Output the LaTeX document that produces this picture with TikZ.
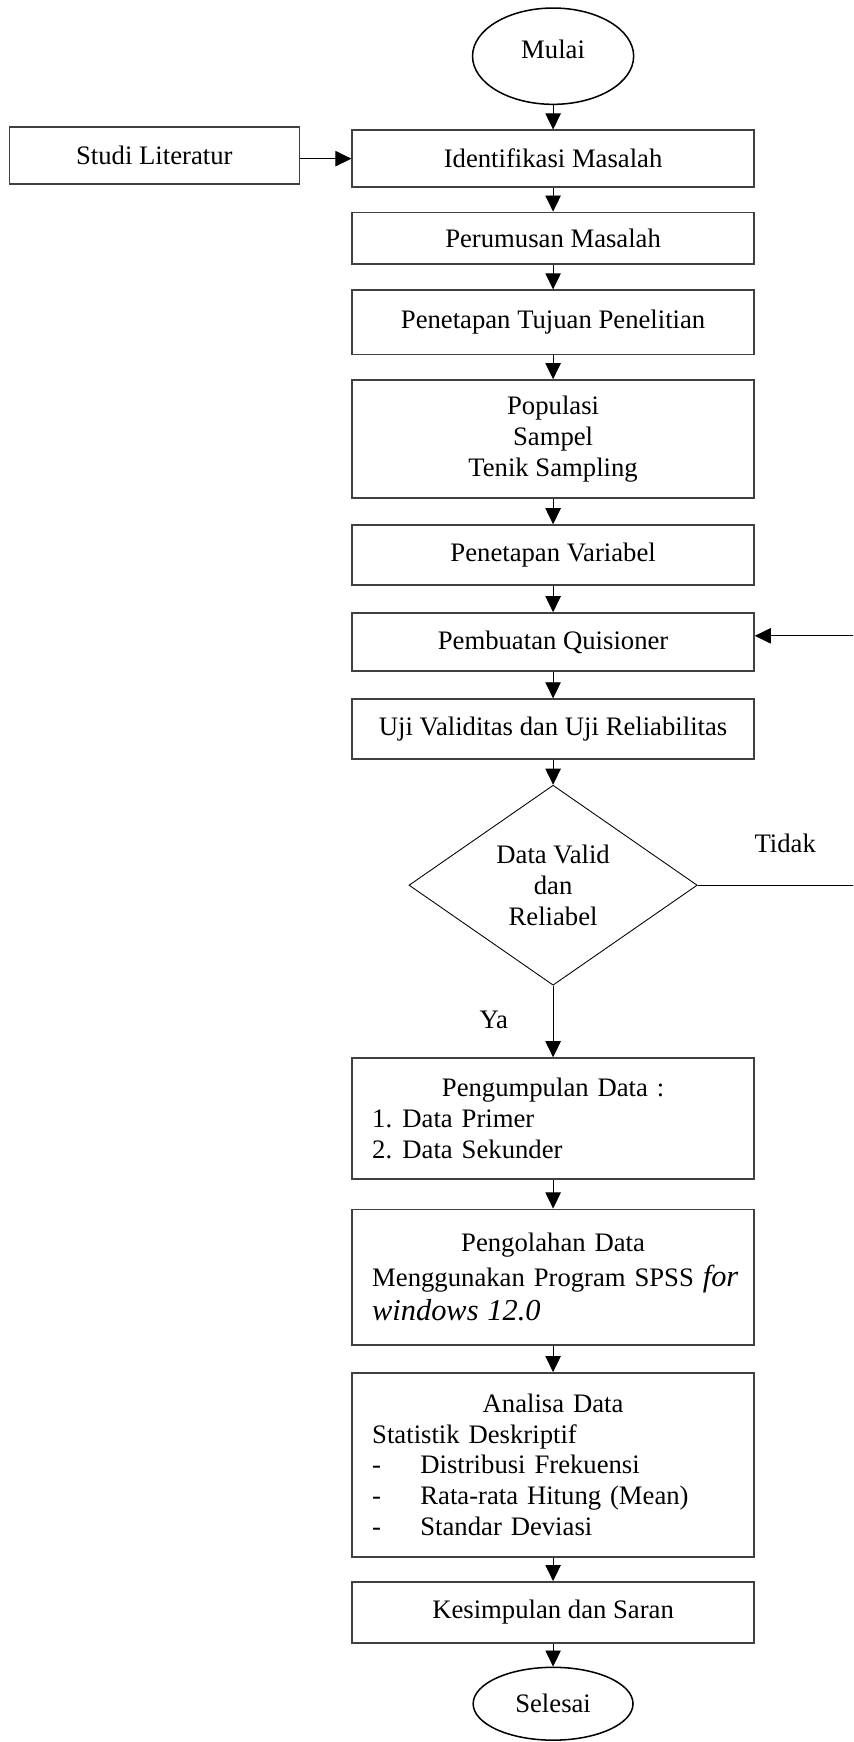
\documentclass[tikz,border=0pt]{standalone}
\usepackage{fontspec}
\setmainfont{Liberation Serif}
\usetikzlibrary{shapes.geometric,arrows.meta}

\tikzset{
	txt/.style={font=\fontsize{12.3}{14.2}\selectfont},
	box/.style={txt, draw=black!75, line width=0.7pt, minimum width=6.51cm, inner sep=0pt, align=center},
	listbox/.style={box, text width=5.86cm, align=left},
	terminal/.style={txt, ellipse, draw, line width=0.7pt, inner sep=0pt},
	decision/.style={txt, diamond, draw, line width=0.4pt, aspect=1.44, inner sep=0pt,
		minimum width=4.67cm, minimum height=3.24cm, align=center},
	flow/.style={line width=0.4pt, ->}
}

\begin{document}
\begin{tikzpicture}[scale=1.0, >={Triangle[width=0.25cm,length=0.26cm]}]
			\useasboundingbox (0,0) rectangle (13.82,-28.22);
			\clip (0,0) rectangle (13.82,-28.22);

			% start and side box
			\node [terminal, minimum width=2.61cm, minimum height=1.56cm] (mulai) at (8.96,-0.91) {\raisebox{0.22cm}{Mulai}};
			\node [box, minimum width=4.70cm, minimum height=0.92cm] (studi) at (2.50,-2.52) {Studi Literatur};

			% main column
			\node [box, minimum height=0.92cm] (ident) at (8.96,-2.57) {Identifikasi Masalah};
			\node [box, minimum height=0.84cm] (perum) at (8.96,-3.86) {Perumusan Masalah};
			\node [box, minimum height=1.04cm] (tujuan) at (8.96,-5.22) {Penetapan Tujuan Penelitian};
			\node [box, minimum height=1.91cm] (pop) at (8.96,-7.11) {Populasi\\Sampel\\Tenik Sampling};
			\node [box, minimum height=0.97cm] (var) at (8.96,-8.99) {Penetapan Variabel};
			\node [box, minimum height=0.94cm] (quis) at (8.96,-10.40) {Pembuatan Quisioner};
			\node [box, minimum height=0.97cm] (uji) at (8.96,-11.81) {Uji Validitas dan Uji Reliabilitas};

			% decision
			\node [decision] (valid) at (8.96,-14.34) {Data Valid\\dan\\Reliabel};
			\node [txt] (tidak) at (12.72,-13.66) {Tidak};
			\node [txt] (ya) at (8.00,-16.52) {Ya};

			% data boxes
			\node [listbox, minimum height=1.96cm] (kumpul) at (8.96,-18.12) {%
				\makebox[5.86cm]{Pengumpulan Data :}\\
				\makebox[0.49cm][l]{1.}Data Primer\\
				\makebox[0.49cm][l]{2.}Data Sekunder};
			\node [listbox, minimum height=2.20cm, font=\fontsize{12.3}{16}\selectfont] (olah) at (8.96,-20.69) {%
				\makebox[5.86cm]{Pengolahan Data}\\
				\mbox{Menggunakan Program SPSS {\fontsize{14}{16}\selectfont\itshape for}}\\
				{\fontsize{14}{16}\selectfont\itshape windows 12.0}};
			\node [listbox, minimum height=2.98cm] (analisa) at (8.96,-23.73) {%
				\makebox[5.86cm]{Analisa Data}\\
				Statistik Deskriptif\\
				\makebox[0.78cm][l]{-}Distribusi Frekuensi\\
				\makebox[0.78cm][l]{-}Rata-rata Hitung (Mean)\\
				\makebox[0.78cm][l]{-}Standar Deviasi};
			\node [box, minimum height=0.99cm] (simpul) at (8.96,-26.12) {Kesimpulan dan Saran};
			\node [terminal, minimum width=2.59cm, minimum height=1.18cm] (selesai) at (8.96,-27.60) {Selesai};

			% connectors
			\draw [flow] (mulai) -- (ident);
			\draw [flow] (ident.west -| studi.east) -- (ident.west);
			\draw [flow] (ident) -- (perum);
			\draw [flow] (perum) -- (tujuan);
			\draw [flow] (tujuan) -- (pop);
			\draw [flow] (pop) -- (var);
			\draw [flow] (var) -- (quis);
			\draw [flow] (quis) -- (uji);
			\draw [flow] (uji) -- (valid);
			\draw [flow] (valid) -- (kumpul);
			\draw [flow] (kumpul) -- (olah);
			\draw [flow] (olah) -- (analisa);
			\draw [flow] (analisa) -- (simpul);
			\draw [flow] (simpul) -- (selesai);

			% loop back when not valid
			\coordinate (back) at (14.30,0);
			\draw [flow] (valid.east) -- (valid.east -| back) |- ([yshift=0.1cm]quis.east);
		\end{tikzpicture}
\end{document}
